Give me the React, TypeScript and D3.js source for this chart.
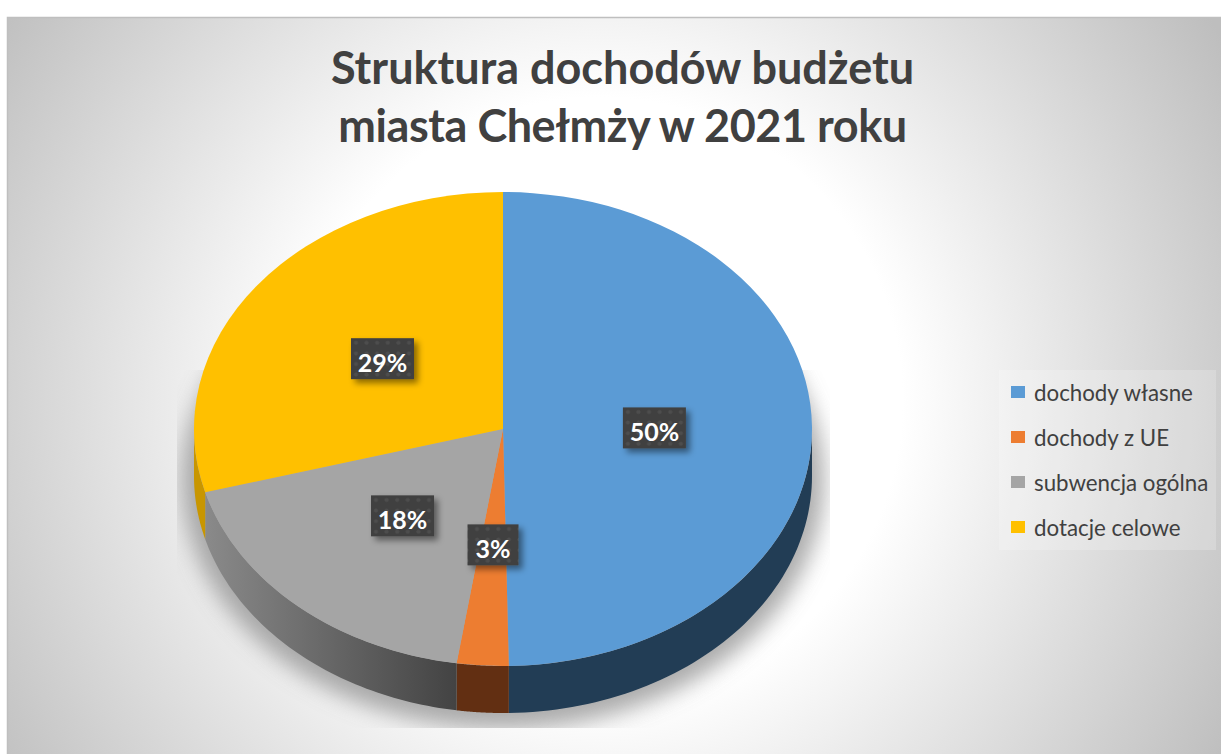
import * as d3 from 'd3'

const categories = ['dochody własne', 'dochody z UE', 'subwencja ogólna', 'dotacje celowe']
const shares = [49.7, 2.7, 18.3, 29.3]
const shareLabels = ['50%', '3%', '18%', '29%']
const colors = ['#5b9bd5', '#ed7d31', '#a5a5a5', '#ffc000']
const wallColors = ['#223d55', '#622f12', '#666666', '#c89600']
const titleLines = ['Struktura dochodów budżetu', 'miasta Chełmży w 2021 roku']

const WIDTH = 1221
const HEIGHT = 754
const cx = 503
const cy = 429
const rx = 309
const ry = 237
const depth = 47
const yScale = ry / rx

const pie = d3.pie<number>().sort(null)
const slices = pie(shares)

const arc = d3.arc<d3.PieArcDatum<number>>().innerRadius(0).outerRadius(rx)
// centroid sits at half of outerRadius, labels are at 0.49 of the radius
const labelArc = d3.arc<d3.PieArcDatum<number>>().innerRadius(0).outerRadius(rx * 0.98)

// wall of the pie: only the front half (pi/2 .. 3pi/2) can be seen
const wallPath = (s: d3.PieArcDatum<number>) => {
  const a0 = Math.max(s.startAngle, Math.PI / 2)
  const a1 = Math.min(s.endAngle, (3 * Math.PI) / 2)
  if (a1 <= a0) return null
  const angles = d3.range(0, 61).map((i) => a0 + ((a1 - a0) * i) / 60)
  const top = angles.map((a) => [rx * Math.sin(a), -ry * Math.cos(a)] as [number, number])
  const bottom = top.map(([x, y]) => [x, y + depth] as [number, number]).reverse()
  return d3.line()([...top, ...bottom]) + 'Z'
}

const labelBox = (text: string) => (text.length > 2 ? 63 : 51)

const App = () => {
  return (
    <svg
      width={WIDTH}
      height={HEIGHT}
      style={{ position: 'absolute', left: 0, top: 0, background: '#fff', fontFamily: 'Lato, sans-serif' }}
    >
      <defs>
        <radialGradient id='bg' gradientUnits='userSpaceOnUse' cx={600} cy={400} r={720}>
          <stop offset='0' stopColor='#ffffff' />
          <stop offset='0.42' stopColor='#ffffff' />
          <stop offset='1' stopColor='#bebebe' />
        </radialGradient>
        <linearGradient id='wallGray' gradientUnits='userSpaceOnUse' x1={-298} x2={-47} y1={0} y2={0}>
          <stop offset='0' stopColor='#8a8a8a' />
          <stop offset='1' stopColor='#434343' />
        </linearGradient>
        <filter id='pieBlur' x='-20%' y='-20%' width='140%' height='140%'>
          <feGaussianBlur stdDeviation='11' />
        </filter>
        <filter id='boxShadow' x='-30%' y='-30%' width='170%' height='170%'>
          <feDropShadow dx='4' dy='4' stdDeviation='3' floodColor='#000' floodOpacity='0.45' />
        </filter>
        <pattern id='dots' width='10.6' height='10.6' patternUnits='userSpaceOnUse'>
          <rect width='10.6' height='10.6' fill='#404040' />
          <circle cx='5.3' cy='5.3' r='2' fill='#4e4e4e' />
        </pattern>
        <clipPath id='shadowClip'>
          <rect x={177} y={370} width={653} height={358} />
        </clipPath>
      </defs>

      <rect x={7} y={17} width={WIDTH - 7} height={HEIGHT - 17} fill='url(#bg)' />
      <path d={`M7.5,${HEIGHT}V17.5H${WIDTH}`} fill='none' stroke='#bfbfbf' strokeWidth={1.5} />

      <g fill='#404040' fontWeight={700} fontSize={45} textAnchor='middle'>
        {titleLines.map((line, i) => (
          <text key={line} x={622.5} y={84 + i * 58} letterSpacing={i === 1 ? -0.45 : 0}>
            {line}
          </text>
        ))}
      </g>

      <g clipPath='url(#shadowClip)'>
        <ellipse cx={cx} cy={cy + depth + 4} rx={rx + 12} ry={ry + 12} fill='#8f8f8f' opacity={0.75} filter='url(#pieBlur)' />
      </g>

      <g transform={`translate(${cx},${cy})`}>
        {slices.map((s, i) => {
          const d = wallPath(s)
          return d ? <path key={categories[i]} d={d} fill={i === 2 ? 'url(#wallGray)' : wallColors[i]} /> : null
        })}
        <g transform={`scale(1,${yScale})`}>
          {slices.map((s, i) => (
            <path key={categories[i]} d={arc(s) as string} fill={colors[i]} />
          ))}
        </g>
        {slices.map((s, i) => {
          const [x, y] = labelArc.centroid(s)
          const w = labelBox(shareLabels[i])
          return (
            <g key={shareLabels[i]} transform={`translate(${x},${y * yScale})`}>
              <rect x={-w / 2} y={-20.5} width={w} height={41} fill='url(#dots)' filter='url(#boxShadow)' />
              <text y={13} textAnchor='middle' fill='#fff' fontWeight={700} fontSize={25}>
                {shareLabels[i]}
              </text>
            </g>
          )
        })}
      </g>

      <rect x={999} y={370} width={217} height={180} fill='#fff' opacity={0.2} />
      {categories.map((c, i) => (
        <g key={c} transform={`translate(1011,${392 + i * 45})`}>
          <rect y={-6} width={14} height={12} fill={colors[i]} />
          <text x={23} y={8.5} fontSize={22.3} fill='#404040'>
            {c}
          </text>
        </g>
      ))}
    </svg>
  )
}

export default App
